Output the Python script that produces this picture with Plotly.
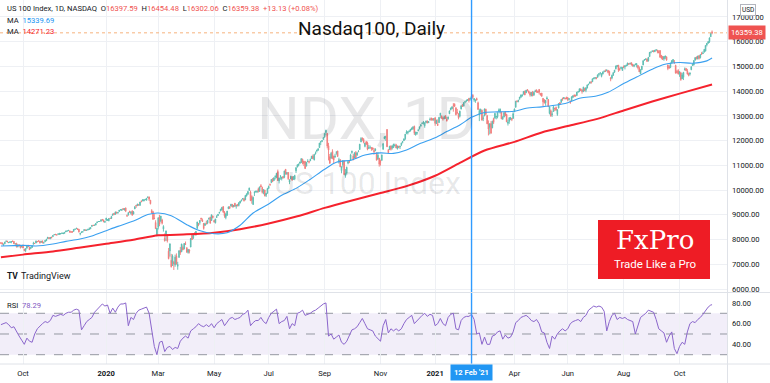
import plotly.graph_objects as go
import pandas as pd

# ---------------- data ----------------
holidays = ["2019-11-28", "2019-12-25", "2020-01-01", "2020-01-20", "2020-02-17", "2020-04-10",
            "2020-05-25", "2020-07-03", "2020-09-07", "2020-11-26", "2020-12-25", "2021-01-01",
            "2021-01-18", "2021-02-15", "2021-04-02", "2021-05-31", "2021-07-05", "2021-09-06"]
_days = pd.bdate_range("2019-09-06", "2021-11-05")
dates = [d.strftime("%Y-%m-%d") for d in _days if d.strftime("%Y-%m-%d") not in holidays]

open_ = [
 7870,7865,7790,7830,7930,7935,7870,7880,7905,7925,7925,7815,7850,7715,7790,7770,7695,
 7770,7615,7560,7650,7740,7680,7640,7680,7810,7840,7860,7920,7945,7935,7890,7945,7860,7915,7950,8045,8080,8045,8100,
 8120,8195,8210,8195,8215,8210,8225,8245,8235,8255,8315,8345,8370,8350,8320,8315,8330,8410,8440,8440,
 8420,8225,8280,8320,8360,8390,8370,8385,8415,8440,8530,8580,8575,8585,8685,8730,8730,8740,8815,8795,8700,
 8780,8780,8760,8855,8850,8985,9060,9020,9110,9070,9135,9210,9180,9250,9200,9280,8965,8990,9140,9060,9160,
 9030,9240,9380,9380,9400,9380,9550,9560,9560,9620,9590,9705,9720,9590,9170,9120,8860,8690,8200,
 8500,8900,8750,8790,8430,8050,8150,8190,7530,7540,7160,7070,7080,6980,7340,6920,7280,7560,7510,7680,7630,7830,
 7660,7480,7570,7700,8170,8070,8250,8210,8450,8620,8680,8860,8780,8650,8570,8650,8670,8840,8900,8770,8950,
 8770,8680,8890,8970,9070,9160,9190,9330,9110,8890,8980,9250,9320,9350,9420,9330,9470,9360,9420,9380,
 9480,9570,9640,9650,9610,9760,9830,9990,9920,9740,9420,9880,9930,9930,10050,9950,10180,10100,9900,10000,9790,9870,
 10070,10220,10300,10430,10390,10530,10520,10760,10370,10550,10460,10550,10520,10840,10660,10710,10330,10450,10540,10430,10450,10780,
 10930,11000,11090,11120,11250,11170,11150,10970,11150,11150,11190,11280,11380,11220,11460,11580,11620,11720,11940,11970,12050,
 12160,12330,12290,11790,11350,11290,11560,11370,11340,11490,11580,11150,11230,10790,11020,11180,10580,10690,11090,11160,11200,
 11520,11380,11300,11510,11410,11570,11640,11950,12100,12050,11770,11950,11900,11690,11710,11700,11710,11600,11600,11500,11260,11290,
 11150,11210,11660,12080,12130,12450,11630,11640,11780,11710,11720,11800,11830,11670,11770,11750,11830,11930,12000,12080,
 12300,12310,12370,12390,12450,12480,12570,12240,12290,12400,12490,12590,12700,12740,12600,12730,12780,12730,12850,12910,12880,12850,
 12920,12690,12660,12730,13020,12990,12920,12880,12990,12870,12880,13090,13250,13290,13440,13470,13330,13140,13080,
 12990,13280,13450,13400,13570,13610,13620,13700,13680,13710,13840,13640,13620,13700,13530,13040,13180,13220,12900,
 13000,13270,13010,12670,12540,12690,12520,12890,12910,12960,12960,13200,13160,13150,12870,12960,13150,13060,12700,12780,12890,12900,12900,
 13170,13350,13590,13580,13700,13760,13810,13880,14000,13940,14060,14000,13950,13820,13960,13840,13980,14050,14000,14070,13900,
 13920,13710,13640,13530,13680,13660,13100,13210,13050,13180,13310,13340,13060,13320,13530,13550,13710,13700,13710,13740,
 13740,13670,13590,13610,13750,13840,13830,13830,13980,14000,14090,14040,13990,14100,14040,14130,14260,14320,14380,14380,14510,14520,
 14550,14560,14680,14730,14600,14690,14800,14810,14840,14840,14800,14540,14530,14640,14770,14900,15000,15050,14900,14920,14840,
 15000,14980,15030,15050,15110,15110,15150,15090,15010,15070,15070,15040,14950,14700,14870,15060,15250,15290,15300,15220,15400,15580,
 15610,15630,15600,15660,15660,15600,15640,15450,15400,15300,15370,15390,15060,15000,14960,15140,15180,15180,15040,14800,14830,
 14710,14740,14500,14560,14860,14920,14820,14710,14690,14870,15040,15060,15260,15380,15300,15430,15360,15520,15520,15580,15620,
 15870,15950,16000,16200,16397.59]

high = [
 7890,7880,7825,7905,7965,7945,7900,7915,7925,7965,7940,7850,7865,7800,7800,7780,7765,
 7795,7620,7640,7765,7790,7710,7700,7765,7910,7870,7960,7945,7965,7950,7935,7955,7880,7975,8030,8105,8090,8100,8115,
 8165,8215,8230,8200,8250,8255,8250,8285,8270,8295,8350,8365,8385,8365,8330,8330,8415,8435,8465,8450,
 8425,8260,8320,8330,8405,8410,8400,8425,8490,8500,8580,8590,8600,8655,8720,8745,8740,8805,8830,8800,8740,
 8875,8830,8855,8880,8960,9040,9070,9120,9120,9120,9195,9215,9240,9275,9260,9290,9020,9100,9165,9130,9170,
 9150,9340,9400,9440,9440,9520,9585,9615,9630,9630,9680,9735,9740,9600,9230,9160,9030,8780,8470,
 8890,9000,8955,8840,8580,8250,8360,8210,7660,7830,7420,7400,7140,7390,7440,7100,7560,7700,7830,7760,7860,7920,
 7700,7620,7610,8060,8200,8240,8300,8340,8720,8670,8790,8880,8850,8670,8680,8760,8790,8880,8920,9010,8970,
 8800,8840,8990,9040,9120,9240,9320,9350,9150,9050,9160,9340,9350,9440,9440,9390,9480,9400,9440,9500,
 9560,9610,9670,9690,9800,9860,9970,10100,9980,9790,9740,9960,9980,9970,10100,10140,10240,10140,10030,10010,9880,10090,
 10180,10270,10440,10490,10510,10600,10680,10830,10500,10610,10540,10560,10790,10850,10730,10730,10440,10580,10560,10570,10620,10910,
 11050,11070,11140,11290,11270,11180,11180,11140,11250,11190,11270,11380,11440,11460,11560,11630,11680,11910,11980,12020,12150,
 12300,12440,12310,11910,11460,11540,11650,11390,11470,11580,11590,11310,11240,10960,11200,11190,10850,10950,11180,11210,11470,
 11600,11460,11520,11580,11530,11600,11860,12140,12130,12100,11920,11990,11960,11820,11800,11740,11720,11700,11690,11530,11540,11300,
 11230,11440,11900,12180,12200,12460,11660,11790,11810,11800,11870,11880,11870,11800,11790,11800,11920,11980,12090,12270,
 12420,12370,12420,12470,12530,12570,12610,12360,12350,12480,12570,12660,12730,12770,12740,12810,12820,12780,12930,12930,12900,12900,
 12950,12850,12860,12960,13120,13020,12970,13010,13030,12960,12970,13220,13330,13380,13520,13510,13340,13280,13110,
 13210,13450,13470,13540,13610,13640,13680,13730,13730,13810,13880,13710,13670,13740,13580,13290,13290,13260,13020,
 13300,13290,13040,12820,12710,12790,12810,12930,13120,12990,13140,13300,13300,13160,12990,13160,13190,13080,12850,12940,12960,12920,13150,
 13300,13610,13640,13660,13770,13860,13860,14000,14020,14050,14080,14030,13970,13960,14010,13990,14060,14070,14010,14080,13930,
 13930,13720,13680,13640,13790,13680,13390,13260,13190,13400,13320,13380,13270,13520,13560,13680,13740,13760,13740,13780,
 13760,13720,13620,13790,13830,13870,13860,13970,13990,14100,14110,14080,14180,14140,14150,14270,14310,14380,14390,14510,14540,14560,
 14560,14670,14730,14760,14730,14790,14830,14880,14880,14860,14830,14560,14670,14760,14860,15030,15060,15060,14950,14990,14970,
 15040,15040,15080,15150,15130,15150,15160,15100,15070,15110,15120,15050,15000,14890,15020,15250,15300,15320,15330,15380,15580,15600,
 15660,15650,15670,15700,15670,15660,15660,15460,15420,15410,15440,15400,15070,15050,15160,15260,15300,15260,15070,14860,14890,
 14800,14780,14740,14780,14960,14940,14900,14750,14760,15000,15120,15250,15370,15400,15430,15460,15490,15590,15610,15700,15860,
 15950,16020,16180,16360,16454.48]

low = [
 7835,7790,7745,7815,7905,7890,7860,7870,7850,7910,7820,7805,7680,7680,7720,7640,7690,
 7650,7530,7490,7640,7710,7585,7630,7665,7805,7825,7855,7900,7920,7840,7880,7855,7835,7895,7940,8040,8030,8010,8045,
 8110,8180,8185,8160,8200,8190,8215,8230,8225,8240,8305,8330,8340,8265,8275,8280,8330,8400,8430,8400,
 8285,8170,8270,8280,8355,8360,8350,8380,8395,8420,8525,8555,8570,8580,8665,8710,8715,8735,8770,8700,8680,
 8760,8770,8740,8835,8840,8960,8990,9010,9060,9055,9130,9175,9170,9205,9170,9110,8930,8975,9080,9010,8960,
 9020,9230,9280,9350,9370,9375,9515,9555,9545,9590,9580,9690,9560,9420,9060,8800,8820,8430,8130,
 8410,8540,8700,8610,8320,7920,7940,7880,7200,7310,6870,6930,6770,6900,6990,6780,7260,7380,7490,7570,7600,7780,
 7470,7430,7440,7690,7980,8020,8170,8150,8440,8540,8600,8750,8720,8400,8560,8610,8620,8790,8650,8760,8850,
 8680,8650,8880,8950,9050,9140,9180,9100,8880,8820,8960,9230,9260,9340,9300,9300,9330,9250,9340,9340,
 9460,9540,9610,9540,9590,9740,9820,9970,9560,9450,9400,9760,9900,9880,9900,9930,10120,9860,9830,9750,9720,9860,
 10050,10180,10290,10340,10370,10430,10480,10370,10270,10420,10390,10460,10480,10620,10610,10410,10240,10440,10390,10420,10400,10690,
 10920,10960,11050,11090,11040,10970,10860,10960,11130,11080,11170,11260,11250,11200,11440,11520,11580,11710,11820,11940,12040,
 12110,12220,11690,11200,11060,11270,11250,11090,11300,11430,11350,11070,10930,10680,10920,10620,10500,10630,11040,11090,11190,
 11470,11200,11280,11270,11400,11530,11630,11940,11990,11890,11730,11840,11610,11680,11680,11590,11610,11430,11570,11200,11220,10950,
 10990,11180,11620,12060,11990,11750,11470,11620,11600,11640,11700,11770,11700,11640,11710,11660,11780,11890,11990,12030,
 12260,12250,12340,12370,12430,12440,12230,12200,12230,12380,12450,12560,12670,12650,12520,12700,12700,12710,12810,12800,12820,12790,
 12600,12680,12600,12720,12900,12880,12810,12870,12890,12770,12850,13070,13220,13270,13170,13360,13020,13080,12860,
 12940,13260,13360,13380,13510,13560,13600,13540,13620,13660,13690,13570,13530,13620,13250,12790,13070,12810,12790,
 12990,13060,12670,12210,12250,12290,12500,12670,12890,12860,12900,13140,13090,12870,12840,12940,12990,12750,12610,12680,12830,12790,12890,
 13160,13340,13550,13550,13650,13720,13780,13870,13840,13920,13990,13900,13780,13790,13790,13820,13960,13940,13930,13870,13820,
 13770,13400,13500,13410,13670,13370,13060,12980,12960,13170,13190,13220,13000,13300,13450,13540,13610,13680,13660,13680,
 13600,13620,13490,13600,13730,13760,13790,13800,13930,13960,14010,13900,13960,14000,13960,14110,14240,14300,14300,14370,14480,14480,
 14480,14550,14600,14670,14560,14680,14760,14790,14800,14720,14630,14400,14480,14620,14740,14880,14970,14780,14820,14900,14830,
 14930,14880,15000,15030,15060,15080,15040,14990,14970,15050,14960,14880,14780,14690,14860,15050,15230,15260,15200,15200,15390,15530,
 15590,15570,15580,15640,15530,15540,15360,15290,15260,15230,15300,15230,14850,14900,14930,15120,15150,15100,14710,14710,14680,
 14580,14420,14500,14450,14840,14820,14680,14600,14630,14850,15020,15040,15230,15280,15290,15280,15320,15470,15510,15560,15610,
 15810,15910,15950,16190,16302.06]

close = [
 7852,7830,7818,7900,7930,7905,7880,7910,7915,7920,7830,7825,7705,7785,7750,7670,7750,
 7660,7550,7635,7760,7715,7590,7680,7730,7850,7840,7940,7910,7940,7860,7930,7860,7875,7960,8010,8090,8040,8085,8080,
 8160,8200,8195,8190,8225,8250,8240,8260,8260,8290,8345,8350,8370,8320,8300,8310,8410,8420,8460,8405,
 8310,8250,8310,8320,8400,8370,8380,8420,8440,8480,8570,8570,8580,8650,8710,8730,8730,8800,8790,8720,8730,
 8870,8790,8850,8850,8930,9030,9010,9120,9070,9090,9190,9210,9210,9220,9250,9150,8950,9090,9110,9120,8990,
 9120,9330,9370,9440,9400,9520,9530,9610,9610,9625,9670,9720,9630,9450,9080,8820,8850,8440,8460,
 8880,8620,8950,8660,8530,7950,8350,7950,7230,7830,6900,7330,7020,7290,7010,6990,7550,7480,7820,7590,7840,7810,
 7490,7600,7530,8040,8000,8230,8240,8330,8710,8620,8770,8830,8730,8450,8640,8640,8780,8860,8660,9000,8890,
 8720,8830,8930,9010,9100,9230,9300,9100,8960,9040,9150,9320,9260,9430,9320,9380,9340,9390,9370,9490,
 9550,9600,9660,9570,9780,9850,9940,10080,9570,9590,9700,9900,9940,9960,9950,10130,10130,9910,10020,9760,9870,10060,
 10150,10210,10430,10340,10500,10550,10680,10390,10490,10550,10520,10500,10770,10660,10700,10460,10400,10560,10400,10540,10590,10910,
 11010,11050,11130,11270,11130,11080,10870,11120,11160,11140,11250,11370,11270,11440,11490,11610,11670,11900,11950,12000,12110,
 12290,12420,11780,11620,11090,11490,11290,11220,11370,11520,11360,11230,10940,10940,11190,10630,10670,10920,11150,11150,11420,
 11560,11240,11510,11310,11510,11580,11860,12090,12060,11940,11900,11850,11650,11710,11710,11690,11660,11560,11660,11210,11410,11050,
 11130,11420,11870,12150,12160,11750,11510,11770,11650,11790,11860,11810,11700,11780,11720,11770,11900,11960,12070,12260,
 12350,12360,12380,12460,12510,12560,12300,12340,12340,12420,12560,12640,12710,12760,12720,12790,12720,12770,12850,12850,12840,12890,
 12700,12820,12620,12940,13110,12910,12880,12970,12900,12800,12960,13200,13320,13370,13430,13390,13050,13130,12930,
 13190,13400,13380,13540,13570,13640,13650,13620,13720,13800,13750,13700,13630,13640,13260,13220,13270,12830,12910,
 13280,13060,12680,12470,12670,12300,12780,12740,13100,12980,13130,13230,13270,12880,12950,13130,13010,12760,12750,12930,12920,12860,13090,
 13280,13590,13580,13620,13760,13850,13850,13990,13850,14040,14040,13950,13850,13950,13820,13950,14010,13970,13950,13960,13860,
 13800,13570,13530,13630,13720,13380,13360,12990,13080,13370,13300,13230,13250,13500,13470,13660,13680,13740,13700,13690,
 13660,13690,13550,13770,13810,13810,13800,13960,13990,14100,14030,13990,14160,14020,14140,14250,14270,14370,14360,14500,14530,14550,
 14520,14660,14700,14740,14690,14780,14810,14800,14850,14760,14640,14500,14640,14750,14850,15020,15040,14860,14880,14960,14960,
 14960,15030,15040,15140,15100,15130,15060,15020,15050,15100,15110,14950,14780,14860,15010,15230,15280,15300,15200,15370,15570,15580,
 15610,15610,15650,15670,15600,15550,15370,15340,15280,15400,15420,15260,14920,14940,15090,15230,15280,15160,14730,14760,14690,
 14790,14470,14660,14760,14890,14830,14690,14640,14730,14990,15100,15240,15360,15330,15420,15330,15480,15500,15540,15690,15850,
 15930,16000,16150,16346.25,16359.38]

ma50_dates = ["2019-09-06", "2019-10-01", "2019-10-15", "2019-11-01", "2019-11-15", "2019-12-02", "2019-12-16",
              "2020-01-02", "2020-01-15", "2020-02-03", "2020-02-19", "2020-03-02", "2020-03-16", "2020-04-01",
              "2020-04-15", "2020-05-01", "2020-05-15", "2020-06-01", "2020-06-15", "2020-07-01", "2020-07-15",
              "2020-08-03", "2020-08-17", "2020-09-01", "2020-09-15", "2020-10-01", "2020-10-15", "2020-11-02",
              "2020-11-16", "2020-12-01", "2020-12-15", "2021-01-04", "2021-01-15", "2021-02-01", "2021-02-12",
              "2021-03-01", "2021-03-15", "2021-04-01", "2021-04-15", "2021-05-03", "2021-05-17", "2021-06-01",
              "2021-06-15", "2021-07-01", "2021-07-15", "2021-08-02", "2021-08-16", "2021-09-01", "2021-09-15",
              "2021-10-01", "2021-10-15", "2021-11-01", "2021-11-05"]
ma50 = [7740, 7765, 7740, 7820, 7926, 8009, 8146, 8359, 8533, 8747, 9013, 9074, 8966, 8600, 8375, 8237, 8277,
        8576, 9074, 9441, 9759, 10100, 10440, 10844, 11126, 11220, 11420, 11503, 11484, 11623, 11876, 12118,
        12369, 12636, 12941, 13141, 13161, 13188, 13308, 13366, 13429, 13535, 13721, 13805, 13956, 14307,
        14572, 14886, 15078, 15158, 15132, 15225, 15339.69]

ma200_dates = ["2019-09-06", "2019-10-01", "2019-11-01", "2019-12-02", "2020-01-02", "2020-02-03", "2020-03-02",
               "2020-04-01", "2020-05-01", "2020-06-01", "2020-07-01", "2020-08-03", "2020-09-01", "2020-10-01",
               "2020-11-02", "2020-12-01", "2021-01-04", "2021-02-01", "2021-03-01", "2021-04-01", "2021-05-03",
               "2021-06-01", "2021-07-01", "2021-08-02", "2021-09-01", "2021-10-01", "2021-11-05"]
ma200 = [7280, 7390, 7520, 7670, 7830, 7990, 8170, 8210, 8280, 8420, 8650, 8940, 9280, 9580, 9880, 10160,
         10580, 11100, 11600, 11950, 12330, 12590, 12870, 13220, 13580, 13900, 14271.23]

# RSI(14), read every second bar, plus the last bar
rsi = [
 59,60,61,59,56,57,52,48,44,
 40,46,43,42,50,55,58,60,62,61,63,
 68,67,68,69,68,70,71,71,73,74,
 73,54,58,62,64,66,71,74,77,79,77,
 78,70,75,71,76,79,79,80,58,66,
 64,70,73,74,75,76,70,52,38,30,
 42,43,33,37,38,35,37,36,43,46,48,
 46,53,55,57,60,58,57,59,57,60,
 56,60,62,64,58,62,65,66,64,65,
 66,69,70,73,58,61,63,63,66,62,60,
 66,70,72,74,60,62,63,67,55,60,58,
 70,71,73,68,69,70,72,73,75,77,79,
 80,48,50,45,47,49,42,40,43,48,
 54,55,57,61,65,60,55,54,53,48,45,
 43,58,64,51,55,53,55,53,55,60,
 64,66,68,60,63,66,68,70,67,69,68,
 58,60,65,60,58,66,69,70,55,54,
 63,66,67,67,69,64,50,51,40,
 47,40,40,48,49,52,53,45,49,46,47,
 52,61,63,66,67,68,66,63,62,64,60,
 52,51,42,36,48,45,50,53,55,
 53,55,60,62,63,64,62,66,68,73,75,
 77,76,77,76,72,53,62,68,70,64,
 66,65,66,64,63,62,50,58,66,68,70,
 73,72,71,64,55,53,51,42,48,52,
 36,31,38,42,40,52,60,62,61,64,66,69,73,76,78,
 78.29]
rsi_dates = dates[0::2] + [dates[-1]]

price_ticks = [6000, 7000, 8000, 9000, 10000, 11000, 12000, 13000, 14000, 15000, 16000, 17000]
rsi_ticks = [40, 60, 80]
time_ticks = ["2019-10-01", "2020-01-02", "2020-03-02", "2020-05-01", "2020-07-01", "2020-09-01",
              "2020-11-02", "2021-01-04", "2021-04-01", "2021-06-01", "2021-08-02", "2021-10-01"]
time_labels = ["Oct", "<b>2020</b>", "Mar", "May", "Jul", "Sep", "Nov", "<b>2021</b>", "Apr", "Jun", "Aug", "Oct"]
marker_date = "2021-02-12"

# ---------------- style ----------------
W, H = 770, 383
PANE_R = 727
def px(x): return x / W
def py(y): return 1 - y / H

FONT = "Roboto, Arial, sans-serif"
TXT = "#131722"
UP, DN = "#5cbdb2", "#f27c7a"
LBL_RED = "#ef5350"
BLUE, RED, PURPLE = "#2196f3", "#f5222d", "#7e57c2"
MARK = "#2f9bff"
GRID = "#eef0f4"
SEP = "#dfe2e8"
SMALL = 7.6

rb = [dict(bounds=["sat", "mon"]), dict(values=holidays)]
xrange = ["2019-09-05 07:12", "2021-11-22 12:00"]

fig = go.Figure()
fig.add_trace(go.Candlestick(
    x=dates, open=open_, high=high, low=low, close=close,
    increasing=dict(line=dict(color=UP, width=0.9), fillcolor=UP),
    decreasing=dict(line=dict(color=DN, width=0.9), fillcolor=DN),
    whiskerwidth=0, hoverinfo="skip", showlegend=False, xaxis="x", yaxis="y"))
fig.add_trace(go.Scatter(x=ma200_dates, y=ma200, mode="lines", hoverinfo="skip", showlegend=False,
                         line=dict(color=RED, width=2, shape="spline", smoothing=0.7), xaxis="x", yaxis="y"))
fig.add_trace(go.Scatter(x=ma50_dates, y=ma50, mode="lines", hoverinfo="skip", showlegend=False,
                         line=dict(color="#3aa0f0", width=1.1, shape="spline", smoothing=0.8), xaxis="x", yaxis="y"))
fig.add_trace(go.Scatter(x=rsi_dates, y=rsi, mode="lines", hoverinfo="skip", showlegend=False,
                         line=dict(color="#8b66cc", width=1), xaxis="x2", yaxis="y2"))
# vertical marker line at 12 Feb '21 in both panes
fig.add_trace(go.Scatter(x=[marker_date, marker_date], y=[5879, 17687], mode="lines", hoverinfo="skip",
                         showlegend=False, line=dict(color=MARK, width=1.4), xaxis="x", yaxis="y"))
fig.add_trace(go.Scatter(x=[marker_date, marker_date], y=[21.0, 89.6], mode="lines", hoverinfo="skip",
                         showlegend=False, line=dict(color=MARK, width=1.4), xaxis="x2", yaxis="y2"))

axfont = dict(family=FONT, size=SMALL, color=TXT)
fig.update_layout(
    width=W, height=H, margin=dict(l=0, r=0, t=0, b=0),
    paper_bgcolor="white", plot_bgcolor="white", showlegend=False, hovermode=False,
    xaxis=dict(domain=[0, px(PANE_R)], anchor="y", range=xrange, rangebreaks=rb,
               rangeslider=dict(visible=False), showticklabels=False, tickvals=time_ticks,
               showgrid=True, gridcolor=GRID, gridwidth=1, zeroline=False, showline=False, ticks="",
               automargin=False, showspikes=False),
    xaxis2=dict(domain=[0, px(PANE_R)], anchor="y2", matches="x", range=xrange, rangebreaks=rb,
                tickvals=time_ticks, ticktext=time_labels, tickfont=axfont, automargin=False,
                showgrid=True, gridcolor=GRID, zeroline=False, showline=False, ticks="", ticklabelstandoff=3,
                showspikes=False),
    yaxis=dict(domain=[py(292), 1], anchor="x", side="right", range=[5879, 17687], automargin=False,
               tickvals=price_ticks, ticktext=[f"{v:.2f}" for v in price_ticks], tickfont=axfont,
               showgrid=True, gridcolor=GRID, zeroline=False, showline=False, ticks="", ticklabelstandoff=4),
    yaxis2=dict(domain=[py(364), py(293)], anchor="x2", side="right", range=[21.0, 89.6], automargin=False,
                tickvals=rsi_ticks, ticktext=[f"{v:.2f}" for v in rsi_ticks], tickfont=axfont,
                showgrid=False, zeroline=False, showline=False, ticks="", ticklabelstandoff=4),
)

shapes = []
# RSI band and levels
shapes.append(dict(type="rect", xref="paper", yref="y2", x0=0, x1=px(PANE_R), y0=30, y1=70,
                   fillcolor="rgba(126,87,194,0.10)", line=dict(width=0), layer="below"))
for lv in (70, 50, 30):
    shapes.append(dict(type="line", xref="paper", yref="y2", x0=0, x1=px(PANE_R), y0=lv, y1=lv,
                       line=dict(color="#9598a1", width=1, dash="dash"), layer="below"))
# last price dotted line
shapes.append(dict(type="line", xref="paper", yref="y", x0=0, x1=px(PANE_R), y0=close[-1], y1=close[-1],
                   line=dict(color="#f6b27c", width=1, dash="dot")))
# separators
shapes.append(dict(type="line", xref="paper", yref="paper", x0=0, x1=1, y0=py(292.5), y1=py(292.5),
                   line=dict(color=SEP, width=1)))
shapes.append(dict(type="line", xref="paper", yref="paper", x0=0, x1=1, y0=py(364), y1=py(364),
                   line=dict(color=SEP, width=1)))
shapes.append(dict(type="line", xref="paper", yref="paper", x0=px(PANE_R + 0.5), x1=px(PANE_R + 0.5), y0=0, y1=1,
                   line=dict(color=SEP, width=1)))
# FxPro logo box
shapes.append(dict(type="rect", xref="paper", yref="paper", x0=px(598), x1=px(710), y0=py(279), y1=py(220),
                   fillcolor="#ee1c25", line=dict(width=0)))
fig.update_layout(shapes=shapes)

def ann(x, y, text, size=SMALL, color=TXT, xanchor="left", yanchor="middle", family=FONT, **kw):
    fig.add_annotation(x=px(x), y=py(y), xref="paper", yref="paper", text=text, showarrow=False,
                       xanchor=xanchor, yanchor=yanchor, font=dict(family=family, size=size, color=color), **kw)

sp = "\u00a0"
red = lambda s: f'<span style="color:{LBL_RED}">{s}</span>'
ann(5, 8.5, f"US 100 Index, 1D, NASDAQ{sp}{sp}O{red('16397.59')}{sp}{sp}H{red('16454.48')}{sp}{sp}"
            f"L{red('16302.06')}{sp}{sp}C{red('16359.38')}{sp}{sp}{red('+13.13 (+0.08%)')}")
ann(5, 20.5, f'MA{sp}{sp}<span style="color:{BLUE}">15339.69</span>')
ann(5, 32, f'MA{sp}{sp}<span style="color:{RED}">14271.23</span>')
ann(371, 28, "Nasdaq100, Daily", size=19, color="#111111", xanchor="center")
# watermarks
ann(366, 118, "NDX, 1D", size=60, color="rgba(19,23,34,0.10)", xanchor="center")
ann(367, 183, "US 100 Index", size=32, color="rgba(19,23,34,0.10)", xanchor="center")
# FxPro logo text
ann(655, 240, "FxPro", size=26, color="white", xanchor="center", family="DejaVu Serif, serif")
ann(655, 264, "Trade Like a Pro", size=11.5, color="white", xanchor="center")
# TradingView logo
ann(5, 276, "<b>TV</b>", size=8.5)
ann(19, 276, "TradingView", size=9)
# RSI label
ann(5, 305, f'RSI{sp}{sp}<span style="color:{PURPLE}">78.29</span>')
# USD unit box
ann(748, 10, "USD", size=6.5, xanchor="center", bgcolor="white", bordercolor="#b2b5be", borderwidth=1, borderpad=1)
# last price tag
fig.add_annotation(x=px(PANE_R + 1), y=close[-1], xref="paper", yref="y", text="16359.38", showarrow=False,
                   xanchor="left", yanchor="middle", bgcolor=LBL_RED, borderpad=2,
                   font=dict(family=FONT, size=SMALL, color="white"))
# date marker label
fig.add_annotation(x=marker_date, y=py(372), xref="x2", yref="paper", text="<b>12 Feb '21</b>", showarrow=False,
                   xanchor="center", yanchor="middle", bgcolor="#2196f3", borderpad=3,
                   font=dict(family=FONT, size=SMALL, color="white"))

fig.write_html("out.html", config=dict(displayModeBar=False),
               post_script="document.body.style.margin='0px';document.body.style.padding='0px';")
